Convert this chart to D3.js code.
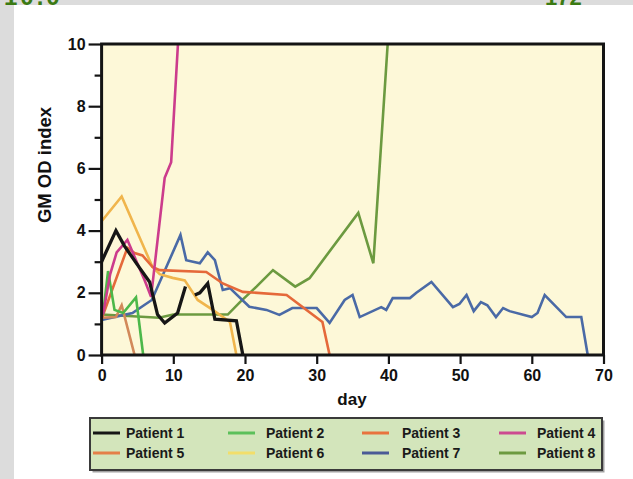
<!DOCTYPE html>
<html><head><meta charset="utf-8">
<script src="https://cdn.jsdelivr.net/npm/d3@7"></script>
<style>html,body{margin:0;padding:0;background:#dcdcdc;}svg{display:block;}</style>
</head><body>
<svg id="c" width="633" height="479"></svg>
<script>
// ---- data ----
const patients = ["Patient 1","Patient 2","Patient 3","Patient 4","Patient 5","Patient 6","Patient 7","Patient 8"];
const colors = ["#161616","#4cb84a","#e5693a","#cc3c8c","#d2895a","#f0b54c","#4a6aa6","#6c9a40"];
const legendColors = ["#161616","#5cc05a","#e8733e","#cc4a90","#e47f48","#f2de6a","#4a5a96","#6c9a40"];
const p1Days = [0,2,3.2,5.3,6.7,7.8,8.8,10.6,11.7,12.4,13,13.7,14.8,15.8,18.8,19.7];
const p1Vals = [3.0,4.0,3.5,2.8,2.35,1.3,1.03,1.35,2.2,null,1.93,2.0,2.3,1.15,1.1,0];
const p2Days = [0.2,0.9,1.8,3,4.8,5.8];
const p2Vals = [1.3,2.7,1.45,1.35,1.85,0];
const p3Days = [0.1,3.6,4.6,5.7,7.1,8.1,14.6,16.9,19.7,25.8,30.8,31.8];
const p3Vals = [1.22,3.45,3.28,3.2,2.83,2.73,2.67,2.3,2.03,1.93,1.06,0];
const p4Days = [0.2,1.2,2.1,3.6,4.8,6,6.9,8.8,9.7,10.65];
const p4Vals = [1.3,2.6,3.3,3.7,3.05,2.4,1.87,5.7,6.2,10];
const p5Days = [0,2,2.8,4.6];
const p5Vals = [1.2,1.22,1.6,0];
const p6Days = [0,2.8,7.1,8.1,9.9,11.6,13.4,15.5,17.9,18.8];
const p6Vals = [4.3,5.1,2.83,2.6,2.48,2.4,1.77,1.45,1.06,0];
const p7Days = [0,4.3,7,8.4,11,11.8,13.7,14.8,15.8,16.9,17.9,20.6,23,24.8,26.6,30,31.8,33.9,35,36,39,39.7,40.6,43,43.9,46,49,49.9,50.9,51.9,52.9,53.8,55,56,56.9,60,60.8,61.8,64.8,66.9,67.8];
const p7Vals = [1.13,1.35,1.77,2.5,3.86,3.05,2.95,3.3,3.05,2.09,2.15,1.55,1.45,1.29,1.51,1.51,1.03,1.77,1.93,1.22,1.54,1.45,1.83,1.83,2.0,2.35,1.54,1.64,1.93,1.41,1.7,1.6,1.22,1.51,1.41,1.22,1.35,1.93,1.22,1.22,0];
const p8Days = [0,8,10,17.6,19.3,21.6,23.9,27,29,35.8,37.9,39.9];
const p8Vals = [1.3,1.2,1.3,1.3,1.7,2.2,2.73,2.2,2.47,4.57,2.95,10];
const yMajorTicks = [0,2,4,6,8,10];
const yMinorTicks = [1,3,5,7,9];
const xTicks = [0,10,20,30,40,50,60,70];
const yTitle = "GM OD index";
const xTitle = "day";
const topLeftNote = "10.0";
const topRightNote = "172";

const series = [
  [p1Days,p1Vals],[p2Days,p2Vals],[p3Days,p3Vals],[p4Days,p4Vals],
  [p5Days,p5Vals],[p6Days,p6Vals],[p7Days,p7Vals],[p8Days,p8Vals]
].map(([d,v],i)=>({name:patients[i],color:colors[i],pts:d.map((x,j)=>({x,y:v[j]}))}));

const svg = d3.select("#c");
const font = "'Liberation Sans', Arial, sans-serif";

// page background + cut-off notes at top (only their lower edge shows, as in the source)
svg.append("rect").attr("width",633).attr("height",479).attr("fill","#dcdcdc");
svg.append("text").attr("x",4).attr("y",5).attr("font-family",font).attr("font-weight","bold")
  .attr("font-size",24).attr("letter-spacing",3).attr("fill","#3b7a12").text(topLeftNote);
svg.append("text").attr("x",545).attr("y",5).attr("font-family",font).attr("font-weight","bold")
  .attr("font-size",22).attr("fill","#3b7a12").text(topRightNote);
svg.append("rect").attr("x",14).attr("y",5).attr("width",619).attr("height",474).attr("fill","#ffffff");

// scales
const x = d3.scaleLinear().domain([0,70]).range([101.6,603.5]);
const y = d3.scaleLinear().domain([0,10]).range([355,44]);

// plot background
svg.append("rect").attr("x",x(0)).attr("y",y(10)).attr("width",x(70)-x(0)).attr("height",y(0)-y(10))
  .attr("fill","#fdf8d8");

svg.append("clipPath").attr("id","clip").append("rect")
  .attr("x",x(0)).attr("y",y(10)).attr("width",x(70)-x(0)).attr("height",y(0)-y(10));

const line = d3.line().defined(d=>d.y!==null).x(d=>x(d.x)).y(d=>y(d.y));
const g = svg.append("g").attr("clip-path","url(#clip)");
const order = [7,6,4,5,2,1,3,0];
order.forEach(i=>{
  const s = series[i];
  g.append("path").datum(s.pts).attr("d",line).attr("fill","none")
    .attr("stroke",s.color).attr("stroke-width",i===0?3.3:2.6)
    .attr("stroke-linejoin","miter").attr("stroke-linecap","butt");
});

// frame
svg.append("rect").attr("x",x(0)).attr("y",y(10)).attr("width",x(70)-x(0)).attr("height",y(0)-y(10))
  .attr("fill","none").attr("stroke","#141414").attr("stroke-width",3);

// axes
const yAx = svg.append("g").attr("transform",`translate(${x(0)},0)`)
  .call(d3.axisLeft(y).tickValues(yMajorTicks).tickSize(13).tickPadding(3).tickFormat(d3.format("d")));
const yMin = svg.append("g").attr("transform",`translate(${x(0)},0)`)
  .call(d3.axisLeft(y).tickValues(yMinorTicks).tickSize(7).tickFormat(""));
const xAx = svg.append("g").attr("transform",`translate(0,${y(0)})`)
  .call(d3.axisBottom(x).tickValues(xTicks).tickSize(9).tickPadding(6).tickFormat(d3.format("d")));
[yAx,yMin,xAx].forEach(a=>{
  a.select(".domain").remove();
  a.selectAll(".tick line").attr("stroke","#141414").attr("stroke-width",2.2);
  a.selectAll(".tick text").attr("font-family",font).attr("font-weight","bold")
    .attr("font-size",16).attr("fill","#111");
});

// titles
svg.append("text").attr("transform","translate(51,165) rotate(-90)").attr("text-anchor","middle")
  .attr("font-family",font).attr("font-weight","bold").attr("font-size",18.5).attr("fill","#111").text(yTitle);
svg.append("text").attr("x",352).attr("y",405).attr("text-anchor","middle")
  .attr("font-family",font).attr("font-weight","bold").attr("font-size",17).attr("fill","#111").text(xTitle);

// legend
const lg = svg.append("g");
lg.append("rect").attr("x",91).attr("y",419).attr("width",512).attr("height",52)
  .attr("fill","#444").attr("opacity",0.5).attr("transform","translate(1.5,1.5)");
lg.append("rect").attr("x",90).attr("y",418).attr("width",512).attr("height",52)
  .attr("fill","#d3e5bb").attr("stroke","#3a3a3a").attr("stroke-width",2);
const colLineX = [93,228,362,499];
const colTextX = [126,266,402,537];
const rowY = [433,453];
patients.forEach((p,i)=>{
  const c = i%4, r = Math.floor(i/4);
  lg.append("line").attr("x1",colLineX[c]).attr("x2",colLineX[c]+27)
    .attr("y1",rowY[r]).attr("y2",rowY[r]).attr("stroke",legendColors[i]).attr("stroke-width",3);
  lg.append("text").attr("x",colTextX[c]).attr("y",rowY[r]+5)
    .attr("font-family",font).attr("font-weight","bold").attr("font-size",14).attr("fill","#1a1a1a").text(p);
});
</script>
</body></html>
